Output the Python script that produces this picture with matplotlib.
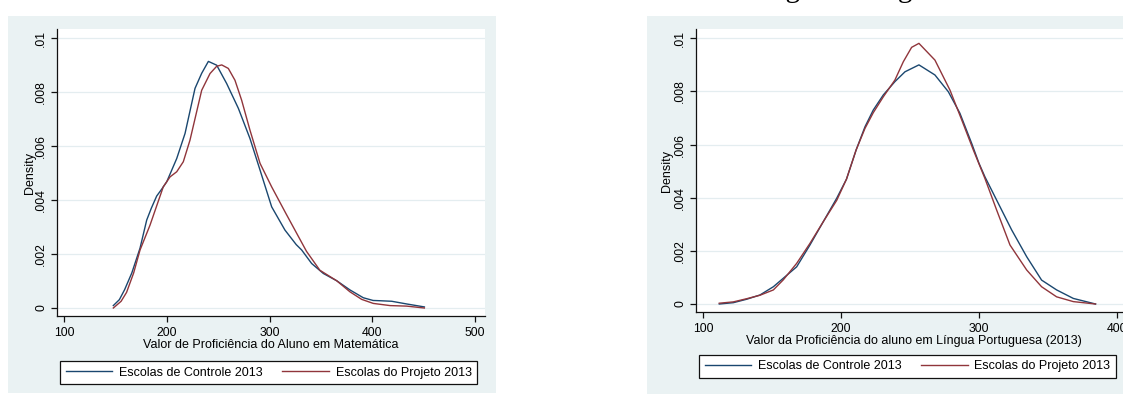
import matplotlib
matplotlib.use("Agg")
import matplotlib.pyplot as plt
from matplotlib.patches import Rectangle
from matplotlib.lines import Line2D

plt.rcParams['font.family'] = ['Liberation Sans', 'DejaVu Sans']

# ---- data: kernel density estimates of student proficiency ----
series_labels = ["Escolas de Controle 2013", "Escolas do Projeto 2013"]

# Mathematics
mat_ctrl_x = [148, 153.9, 159, 166, 174, 180.5, 185, 190.2, 195, 200, 209.7, 217.8, 227.5,
              234, 240.5, 248.6, 258.3, 269.7, 281, 290.8, 302.1, 315, 326, 331.3, 341,
              352.4, 365.4, 378.3, 391.3, 400.8, 407.5, 418.9, 433.5, 450.7]
mat_ctrl_y = [0.00009, 0.00031, 0.00068, 0.0013, 0.00222, 0.00326, 0.0037, 0.00415,
              0.0044, 0.00468, 0.00554, 0.00647, 0.00814, 0.0087, 0.00914, 0.009, 0.00832,
              0.0074, 0.00628, 0.00511, 0.00375, 0.00289, 0.00235, 0.00215, 0.00165,
              0.00128, 0.00101, 0.00067, 0.00038, 0.00028, 0.00027, 0.00025, 0.00015,
              0.00004]
mat_proj_x = [148, 155.6, 160.9, 167.8, 174, 183.7, 196.6, 203.2, 209.7, 216.1, 222.6,
              234, 242.1, 248.6, 253.5, 259.9, 266.4, 272.9, 281, 290.8, 302.1, 316,
              326, 336, 349, 365.4, 378.3, 389.7, 401, 417.3, 433.5, 450.7]
mat_proj_y = [0.0, 0.00025, 0.00058, 0.0013, 0.00215, 0.00307, 0.00449, 0.00486,
              0.00505, 0.00542, 0.00622, 0.00807, 0.00869, 0.00896, 0.00901, 0.00888,
              0.00844, 0.0077, 0.00659, 0.00536, 0.00449, 0.0035, 0.0028, 0.0021,
              0.0014, 0.00101, 0.0006, 0.00032, 0.00017, 0.00009, 0.00007, 0.0]

# Portuguese language
por_ctrl_x = [111.8, 122, 131.7, 141.3, 151, 158.2, 167.9, 177.5, 187.2, 196.9, 204,
              211, 217.4, 223.4, 230.7, 239.1, 246.4, 256.5, 268.1, 277.8, 286.2, 294.7,
              300, 304.3, 314, 323.7, 334.6, 345.4, 356.3, 368.4, 384.5]
por_ctrl_y = [0.0, 0.00005, 0.00018, 0.00034, 0.00065, 0.00097, 0.0014, 0.00222,
              0.0031, 0.00398, 0.0047, 0.0058, 0.00667, 0.0073, 0.00787, 0.00837, 0.00874,
              0.009, 0.00862, 0.00799, 0.00718, 0.00605, 0.0053, 0.00479, 0.00379,
              0.00279, 0.00178, 0.0009, 0.00053, 0.00021, 0.0]
por_proj_x = [111.8, 122, 131.7, 141.3, 151, 158.2, 167.9, 177.5, 187.2, 196.9, 204,
              211, 217.4, 223.4, 230.7, 239.1, 245.2, 251.2, 256.5, 268.1, 279, 287.5,
              295.9, 304.3, 312.8, 322.5, 334.6, 345.4, 356.3, 368.4, 384.5]
por_proj_y = [0.00003, 0.00008, 0.0002, 0.00033, 0.00053, 0.00091, 0.00153, 0.00228,
              0.0031, 0.0039, 0.0047, 0.0058, 0.00661, 0.0072, 0.0078, 0.00843, 0.00912,
              0.00966, 0.00981, 0.00918, 0.00805, 0.00693, 0.0058, 0.00473, 0.00354,
              0.00222, 0.00128, 0.00065, 0.00027, 0.00009, 0.0]

y_ticks = [0, 0.002, 0.004, 0.006, 0.008, 0.01]
y_tick_labels = ["0", ".002", ".004", ".006", ".008", ".01"]
mat_x_ticks = [100, 200, 300, 400, 500]
por_x_ticks = [100, 200, 300, 400]
mat_title = "Valor de Proficiência do Aluno em Matemática"
por_title = "Valor da Proficiência do aluno em Língua Portuguesa (2013)"
heading = "Língua Portuguesa"

# ---- style ----
NAVY = "#1A476F"
MAROON = "#90353B"
REGION = "#EAF2F3"
GRID = "#E4EDF0"

W, H = 1123, 394
fig = plt.figure(figsize=(W / 100, H / 100), dpi=100)
fig.patch.set_facecolor("white")


def fx(px):
    return px / W


def fy(py):
    return 1 - py / H


# graph regions (drawn beneath the axes)
fig.patches.append(Rectangle((fx(8), fy(393)), (496 - 8) / W, (393 - 16) / H,
                             transform=fig.transFigure, facecolor=REGION,
                             edgecolor="none", zorder=-5))
fig.patches.append(Rectangle((fx(647), fy(395)), (1140 - 647) / W, (395 - 16) / H,
                             transform=fig.transFigure, facecolor=REGION,
                             edgecolor="none", zorder=-5))

# heading of the second panel, mostly above the canvas
fig.text(fx(744.6), 1 + 3.0 / H, heading, ha="left", va="baseline",
         fontsize=21, family=["Liberation Serif", "DejaVu Serif"])


def style_axes(ax, xlim, ylim, xticks, xtitle, density_x):
    ax.set_zorder(2)
    ax.set_facecolor("white")
    ax.set_xlim(*xlim)
    ax.set_ylim(*ylim)
    for s in ("top", "right"):
        ax.spines[s].set_visible(False)
    for s in ("left", "bottom"):
        ax.spines[s].set_linewidth(0.9)
        ax.spines[s].set_color("#111111")
    ax.set_yticks(y_ticks, y_tick_labels)
    ax.set_xticks(xticks)
    ax.tick_params(axis="both", direction="out", length=4.5, width=0.9,
                   color="#111111", labelsize=8.8)
    ax.tick_params(axis="y", labelrotation=90, pad=2.5)
    for lab in ax.get_yticklabels():
        lab.set_va("center")
    ax.tick_params(axis="x", pad=3.5)
    ax.grid(axis="y", color=GRID, linewidth=0.9)
    ax.set_axisbelow(True)
    ax.set_xlabel(xtitle, fontsize=9, labelpad=0)
    ax.set_ylabel("Density", fontsize=9)
    ax.yaxis.set_label_coords(density_x, 0.5)
    ax.yaxis.label.set_va("center")


def add_legend(ax, left_px, top_px):
    handles = [Line2D([], [], color=NAVY, lw=1.0), Line2D([], [], color=MAROON, lw=1.0)]
    leg = ax.legend(handles, series_labels, loc="upper left",
                    bbox_to_anchor=(fx(left_px), fy(top_px)),
                    bbox_transform=fig.transFigure, ncol=2, frameon=True,
                    fancybox=False, edgecolor="#111111", facecolor="white",
                    framealpha=1, fontsize=9, handlelength=3.7, handletextpad=0.55,
                    columnspacing=1.6, borderpad=0.45, borderaxespad=0)
    leg.get_frame().set_linewidth(0.9)


# Mathematics panel
ax1 = fig.add_axes([fx(57), fy(316), (485 - 57) / W, (316 - 29.3) / H])
ax1.plot(mat_ctrl_x, mat_ctrl_y, color=NAVY, lw=1.0)
ax1.plot(mat_proj_x, mat_proj_y, color=MAROON, lw=1.0)
style_axes(ax1, (93.2, 509.7), (-0.000296, 0.01033), mat_x_ticks, mat_title, -0.063)
add_legend(ax1, 60, 361)

# Portuguese panel
ax2 = fig.add_axes([fx(696), fy(312.3), (1131 - 696) / W, (312.3 - 29.3) / H])
ax2.plot(por_ctrl_x, por_ctrl_y, color=NAVY, lw=1.0)
ax2.plot(por_proj_x, por_proj_y, color=MAROON, lw=1.0)
style_axes(ax2, (94.93, 410.2), (-0.000312, 0.010339), por_x_ticks, por_title, -0.067)
add_legend(ax2, 699, 354.5)

fig.savefig("out.png", dpi=100)
